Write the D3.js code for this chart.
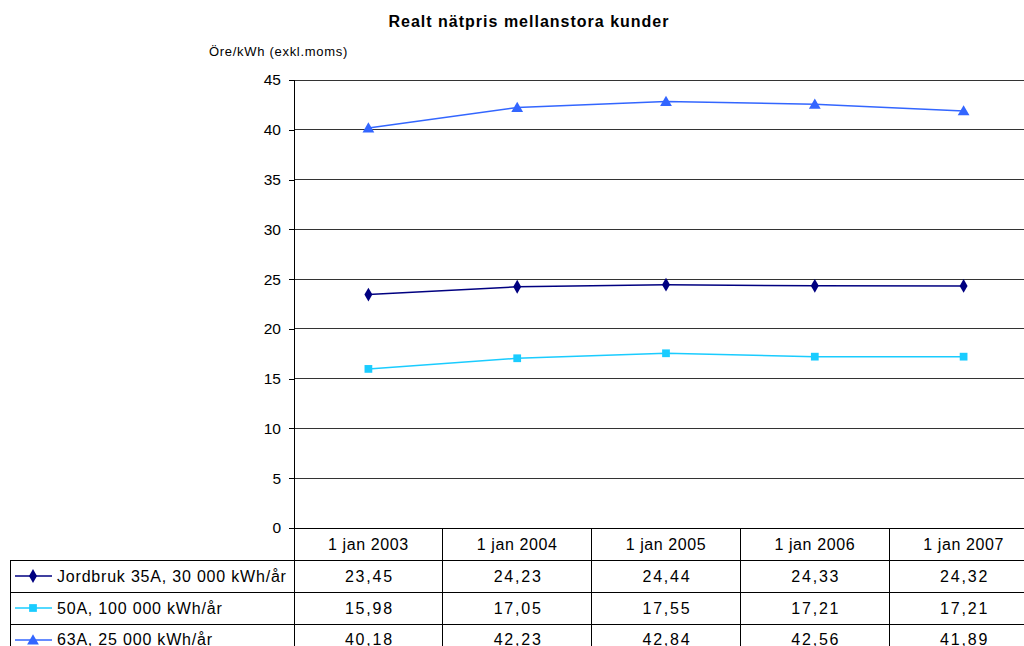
<!DOCTYPE html>
<html><head><meta charset="utf-8">
<script src="https://cdn.jsdelivr.net/npm/d3@7"></script>
<style>body{margin:0;background:#fff;overflow:hidden}svg{display:block;font-family:Arial,"Liberation Sans",sans-serif}</style>
</head><body><svg id="c" width="1024" height="646"></svg>
<script>
const categories = ["1 jan 2003","1 jan 2004","1 jan 2005","1 jan 2006","1 jan 2007"];
const seriesNames = ["Jordbruk 35A, 30 000 kWh/år","50A, 100 000 kWh/år","63A, 25 000 kWh/år"];
const jordbruk = [23.45,24.23,24.44,24.33,24.32];
const a50 = [15.98,17.05,17.55,17.21,17.21];
const a63 = [40.18,42.23,42.84,42.56,41.89];
const yTicks = [0,5,10,15,20,25,30,35,40,45];
const colors = ["#000080","#1ACCFF","#3366FF"];
const shapes = [d3.symbolDiamond, d3.symbolSquare, d3.symbolTriangle];
const series = [jordbruk, a50, a63];

const svg = d3.select("#c");
const L = 294, R = 1038, T = 80, B = 528, rowH = 32;
const x = d3.scaleBand().domain(categories).range([L, R]);
const y = d3.scaleLinear().domain([0,45]).range([B, T]);

svg.append("text").attr("x",529).attr("y",27).attr("text-anchor","middle")
  .attr("font-weight","bold").attr("font-size",16).attr("letter-spacing",1).text("Realt nätpris mellanstora kunder");
svg.append("text").attr("x",209).attr("y",56).attr("font-size",13).attr("letter-spacing",0.7).text("Öre/kWh (exkl.moms)");

// gridlines
svg.append("g").selectAll("line").data(yTicks.filter(d=>d>0)).join("line")
  .attr("x1",L).attr("x2",R).attr("y1",d=>y(d)).attr("y2",d=>y(d))
  .attr("stroke","#333").attr("stroke-width",1).attr("shape-rendering","crispEdges");

// y axis
const ya = svg.append("g").attr("transform",`translate(${L},0)`)
  .call(d3.axisLeft(y).tickValues(yTicks).tickSize(5).tickPadding(8).tickFormat(d3.format("d")));
ya.select(".domain").attr("stroke","#000").attr("shape-rendering","crispEdges");
ya.selectAll(".tick line").attr("stroke","#000").attr("shape-rendering","crispEdges");
ya.selectAll("text").attr("font-size",15.5).attr("font-family","Arial,'Liberation Sans',sans-serif").attr("fill","#000");

// table
const tbl = svg.append("g").attr("shape-rendering","crispEdges");
[B, B+rowH, B+2*rowH, B+3*rowH].forEach((yy,i)=>{
  tbl.append("line").attr("x1", i===0? L : 10).attr("x2",R).attr("y1",yy).attr("y2",yy).attr("stroke","#000");
});
const vx = categories.map(c=>x(c)).concat([R]);
vx.forEach(xx=>tbl.append("line").attr("x1",xx).attr("x2",xx).attr("y1",B).attr("y2",646).attr("stroke","#000"));
tbl.append("line").attr("x1",10).attr("x2",10).attr("y1",B+rowH).attr("y2",646).attr("stroke","#000");

// header
svg.append("g").selectAll("text").data(categories).join("text")
  .attr("x",d=>x(d)+x.bandwidth()/2).attr("y",B+rowH/2+5.5).attr("text-anchor","middle")
  .attr("font-size",16).attr("letter-spacing",0.6).text(d=>d);

// rows
series.forEach((s,i)=>{
  const ry = B + rowH*(i+1);
  const g = svg.append("g");
  g.selectAll("text.v").data(s).join("text").attr("class","v")
    .attr("x",(d,j)=>x(categories[j])+x.bandwidth()/2+1).attr("y",ry+rowH/2+5.5 - (i===2?1:0))
    .attr("text-anchor","middle").attr("font-size",16).attr("letter-spacing",1.8).text(d=>d.toFixed(2).replace(".",","));
  g.append("line").attr("x1",15).attr("x2",52).attr("y1",ry+rowH/2).attr("y2",ry+rowH/2)
    .attr("stroke",colors[i]).attr("stroke-width",1.5);
  g.append("path").attr("d",d3.symbol().type(shapes[i]).size(i===0?55:60)())
    .attr("transform",`translate(33,${ry+rowH/2+(i===2?1:0)})`).attr("fill",colors[i]);
  g.append("text").attr("x",57).attr("y",ry+rowH/2+5.5 - (i===2?1:0)).attr("font-size",16).attr("letter-spacing",0.8).text(seriesNames[i]);
});

// lines
const line = d3.line().x((d,j)=>x(categories[j])+x.bandwidth()/2).y(d=>y(d));
series.forEach((s,i)=>{
  svg.append("path").datum(s).attr("d",line).attr("fill","none").attr("stroke",colors[i]).attr("stroke-width",1.5);
  svg.append("g").selectAll("path").data(s).join("path")
    .attr("d",d3.symbol().type(shapes[i]).size(i===0?55:60)())
    .attr("transform",(d,j)=>`translate(${x(categories[j])+x.bandwidth()/2},${y(d)+(i===2?1:0)})`)
    .attr("fill",colors[i]);
});
</script></body></html>
